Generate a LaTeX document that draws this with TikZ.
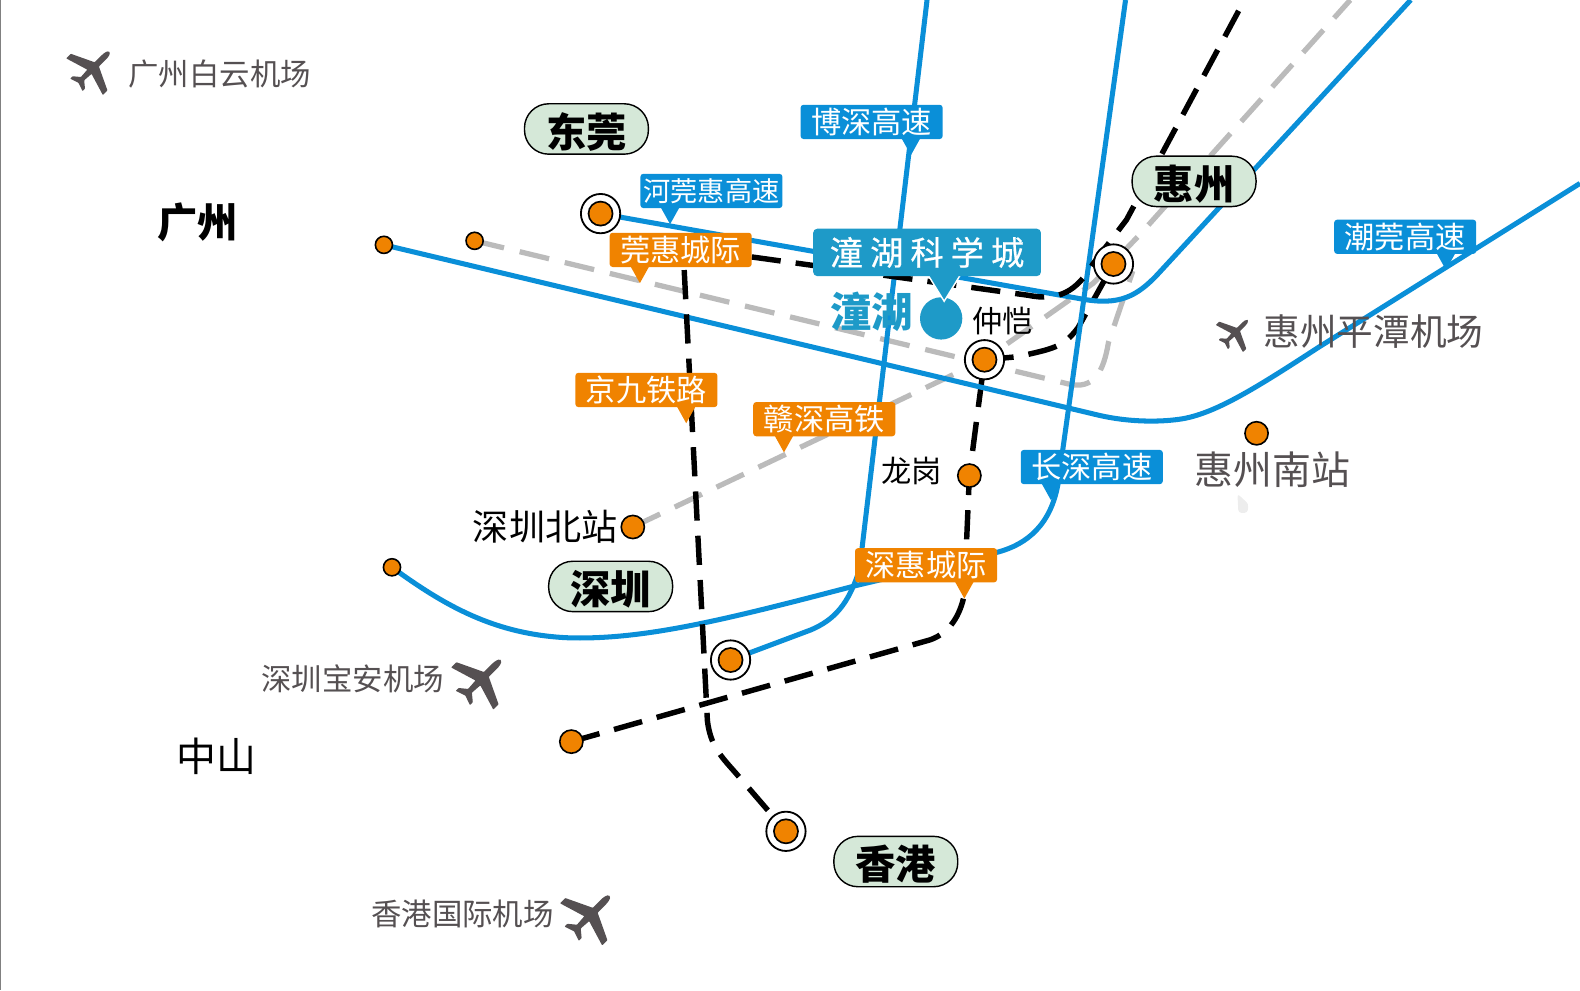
\documentclass[tikz,border=0pt]{standalone}
\usepackage{fontspec}
\setmainfont{Noto Sans CJK SC}
\usetikzlibrary{backgrounds}
\definecolor{linkblue}{HTML}{0A8FD8}
\definecolor{linkorange}{HTML}{F08300}
\definecolor{parkblue}{HTML}{1E9AC8}
\definecolor{citygreen}{HTML}{D5E8D8}
\definecolor{txtgrey}{HTML}{555052}
\definecolor{dashgrey}{HTML}{BBBBBB}
\tikzset{
  blueline/.style={draw=linkblue,line width=2.5pt},
  blackdash/.style={draw=black,line width=2.7pt,dash pattern=on 14.5pt off 7.5pt},
  greydash/.style={draw=dashgrey,line width=2.6pt,dash pattern=on 15pt off 8pt},
  station/.style={circle,draw=black,line width=.8pt,fill=linkorange,minimum size=11.5pt,inner sep=0pt},
  endstop/.style={station,minimum size=8.5pt},
  hubring/.style={circle,draw=black,line width=.9pt,fill=white,minimum size=19.5pt,inner sep=0pt,
    path picture={\fill[black] (path picture bounding box.center) circle (6.4pt);
      \fill[linkorange] (path picture bounding box.center) circle (5.5pt);}},
  citypill/.style={rounded corners=12pt,draw=black,line width=.7pt,fill=citygreen,minimum width=61.5pt,minimum height=25pt,inner sep=0pt,text height=18pt,text depth=0pt,font=\fontsize{20pt}{21pt}\selectfont\bfseries},
  tagtext/.style={rounded corners=1.5pt,minimum width=70.5pt,minimum height=17pt,inner sep=0pt,text=white,font=\fontsize{15pt}{16pt}\selectfont},
  airport/.style={text=txtgrey,inner sep=0pt,font=\fontsize{15.1pt}{16pt}\selectfont},
  plane/.pic={\fill[txtgrey,x=1pt,y=1pt,rounded corners=.3pt] (0,1) .. controls (.1,1) and (.13,.8) .. (.13,.65) -- (.13,.25) -- (1.12,-.22) -- (1.12,-.5) -- (.13,-.2) -- (.1,-.62) -- (.38,-.85) -- (.38,-1) -- (0,-.87) -- (-.38,-1) -- (-.38,-.85) -- (-.1,-.62) -- (-.13,-.2) -- (-1.12,-.5) -- (-1.12,-.22) -- (-.13,.25) -- (-.13,.65) .. controls (-.13,.8) and (-.1,1) .. (0,1) -- cycle;}
}
% name, colour, x, y, x of tip, text
\newcommand{\tagbox}[6]{
  \fill[#2] (#5-10,#4+15) -- (#5,#4+33) -- (#5+10,#4+15) -- cycle;
  \node (#1) at (#3,#4) [tagtext,fill=#2] {#6};
}
\begin{document}
\begin{tikzpicture}[x=.5pt,y=-.5pt]
\useasboundingbox (0,0) rectangle (1568,982.6);
\draw[gray,line width=.7pt] (.7,0) -- (.7,982.6);
%stations
\node (gzs) at (381,243) [endstop] {};
\node (gzn) at (471,239) [endstop] {};
\node (szb) at (628,523) [station] {};
\node (szw) at (389,563) [endstop] {};
\node (zsh) at (567,736) [station] {};
\node (lgs) at (962,472) [station] {};
\node (hzn) at (1247,430) [station] {};
\node (dgs) at (596,212) [hubring] {};
\node (hzs) at (1105,262) [hubring] {};
\node (zkh) at (977,357) [hubring] {};
\node (sza) at (725,655) [hubring] {};
\node (hks) at (780,825) [hubring] {};
%free ends
\coordinate (bsTop) at (920,0);
\coordinate (csTop) at (1117,0);
\coordinate (hgTop) at (1400,0);
\coordinate (cgEnd) at (1568,182);
\coordinate (gsTop) at (1340,0);
\coordinate (ghTop) at (1235,0);
\coordinate (ghEnd) at (746,255);
\coordinate (jjEnd) at (679,268);
%lines
\begin{pgfonlayer}{background}
\draw[greydash] (gzn.center) -- (1060,381) .. controls (1085,387) and (1095,370) .. (1100,340) -- (hzs.-20);
\draw[greydash] (szb.center) -- (zkh.center) -- (1085,281) -- (1131,233) -- (gsTop);
\draw[blackdash] (zkh.center) -- (1010,354) .. controls (1045,346) and (1055,345) .. (1070,325) -- (hzs.center);
\draw[blackdash] (zsh.center) -- (923,635) .. controls (943,628) and (953,610) .. (957,590) -- (lgs.center) -- (zkh.center);
\draw[blueline] (bsTop) -- (853,565) .. controls (842,600) and (828,615) .. (805,625) -- (sza.center);
\draw[blueline] (csTop) -- (1050,480) .. controls (1043,520) and (1020,540) .. (990,548) -- (850,581) .. controls (720,615) and (640,635) .. (565,633) .. controls (490,630) and (440,600) .. (szw.center);
\draw[blueline] (dgs.center) -- (1075,297) .. controls (1110,303) and (1128,295) .. (1150,271) -- (hgTop);
\draw[blueline] (gzs.center) -- (1090,412) .. controls (1120,419) and (1150,419) .. (1171,416) .. controls (1205,411) and (1245,386) .. (1308,345) -- (cgEnd);
\draw[blackdash] (ghEnd) -- (1020,293) .. controls (1050,299) and (1068,290) .. (hzs.west) -- (1118,218) -- (ghTop);
\draw[blackdash] (jjEnd) -- (702,715) .. controls (705,740) and (715,750) .. (730,767) -- (hks.center);
\end{pgfonlayer}
%Tonghu
\node (thd) at (934,316) [circle,fill=parkblue,minimum size=21pt,inner sep=0pt] {};
\fill[parkblue,draw=white,line width=.7pt] (918,268) -- (937,299) -- (956,268) -- cycle;
\node (thk) at (920,250.5) [fill=parkblue,rounded corners=2pt,minimum width=113pt,minimum height=23.5pt,inner sep=0pt,text=white,font=\fontsize{16.5pt}{17pt}\selectfont\addfontfeature{FakeBold=.5}] {潼\hspace{3.5pt}湖\hspace{3.5pt}科\hspace{3.5pt}学\hspace{3.5pt}城};
\node (thn) at (865,309) [inner sep=0pt,text=parkblue,font=\fontsize{20.5pt}{21pt}\selectfont\bfseries] {潼湖};
%line labels
\tagbox{bsl}{linkblue}{865}{121}{904}{博深高速}
\tagbox{hgl}{linkblue}{706}{189.5}{665}{\fontsize{13.5pt}{14pt}\selectfont 河莞惠高速}
\tagbox{ghl}{linkorange}{675.5}{248}{635}{莞惠城际}
\tagbox{jjl}{linkorange}{641.5}{387}{681}{京九铁路}
\tagbox{gsl}{linkorange}{818}{416}{778}{赣深高铁}
\tagbox{shl}{linkorange}{919}{561}{957}{深惠城际}
\tagbox{csl}{linkblue}{1083.5}{463.5}{1043}{长深高速}
\tagbox{cgl}{linkblue}{1394.5}{235}{1435}{潮莞高速}
%cities
\node (dgc) at (582,128) [citypill] {东莞};
\node (hzc) at (1185,180) [citypill] {惠州};
\node (szc) at (606,582) [citypill] {深圳};
\node (hkc) at (889,855) [citypill] {香港};
\node (gzc) at (196,221) [inner sep=0pt,font=\fontsize{20pt}{21pt}\selectfont\bfseries] {广州};
\node (zsc) at (215,751) [inner sep=0pt,font=\fontsize{19.8pt}{21pt}\selectfont] {中山};
%place names
\node (zkt) at (995,319) [inner sep=0pt,font=\fontsize{15pt}{16pt}\selectfont] {仲恺};
\node (lgt) at (905,467) [inner sep=0pt,font=\fontsize{15pt}{16pt}\selectfont] {龙岗};
\node (szbt) at (541,523) [inner sep=0pt,font=\fontsize{17.9pt}{19pt}\selectfont] {深圳北站};
\node (hznt) at (1263,466) [airport,font=\fontsize{19.3pt}{20pt}\selectfont] {惠州南站};
%airports
\node (gza) at (218,73) [airport] {广州白云机场};
\node (sza2) at (350,674) [airport] {深圳宝安机场};
\node (hka) at (459,907) [airport] {香港国际机场};
\node (hza) at (1363,329) [airport,font=\fontsize{18.2pt}{19pt}\selectfont] {惠州平潭机场};
\pic[rotate=-45,scale=11.5] at (92,68) {plane};
\pic[rotate=-45,scale=13.2] at (478,674) {plane};
\pic[rotate=-45,scale=13.2] at (586,908) {plane};
\pic[rotate=-45,scale=8.5] at (1226,330) {plane};
%smudge
\fill[black!7,rounded corners=1.5pt] (1228,490) -- (1239,500) -- (1238,509) -- (1229,509) -- cycle;
\end{tikzpicture}
\end{document}
